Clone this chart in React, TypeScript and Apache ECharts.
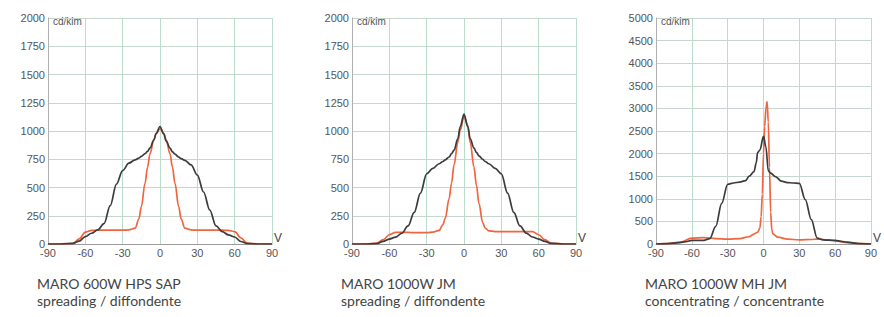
import React, { useEffect, useRef } from "react";
import * as echarts from "echarts";

// Shared angle grid (degrees) for charts 1 and 2
const anglesA = [-90,-80,-70,-65,-60,-55,-50,-45,-40,-35,-30,-25,-20,-17,-15,-12,-10,-8,-5,-3,0,3,5,8,10,12,15,17,20,25,30,35,40,45,50,55,60,65,70,80,90];

// MARO 600W HPS SAP (cd/klm)
const hps600Black = [0,0,5,25,65,95,125,180,340,530,650,715,745,760,775,800,820,850,920,980,1040,975,910,850,815,795,770,755,740,700,610,460,300,160,110,80,62,22,4,0,0];
const hps600Orange = [0,0,3,45,105,120,122,122,122,122,122,125,140,220,330,540,680,800,920,980,1020,980,920,800,680,540,330,220,140,125,122,122,122,122,122,120,110,55,8,0,0];

// MARO 1000W JM (cd/klm)
const jm1000Black = [0,0,3,23,44,60,95,160,280,450,620,670,710,730,745,770,800,830,930,1040,1150,1040,930,850,810,780,750,730,710,670,620,450,280,160,97,62,44,23,5,0,0];
const jm1000Orange = [0,0,8,38,82,103,103,102,100,100,100,105,120,170,230,400,540,700,900,1010,1130,1050,900,680,520,360,190,140,117,110,110,110,110,110,110,110,82,38,8,0,0];

// MARO 1000W MH JM (cd/klm)
const anglesCBlack = [-90,-80,-70,-65,-60,-55,-50,-45,-40,-35,-30,-25,-20,-15,-12,-8,-6,-5,-3,0,2,4,6,10,15,20,25,30,35,40,45,50,55,60,65,70,80,90];
const mh1000Black = [0,10,30,50,80,80,80,120,390,900,1320,1350,1370,1400,1500,1600,1800,2020,2080,2380,2150,1620,1570,1490,1390,1360,1350,1340,980,540,130,90,85,80,60,40,10,0];
const anglesCOrange = [-90,-80,-70,-60,-50,-40,-30,-20,-12,-8,-5,-3,-2,-1,0,1,2,3,4,5,6,7,8,12,20,30,40,45,50,60,70,80,90];
const mh1000Orange = [0,10,40,130,140,120,110,120,160,220,260,350,600,1100,2000,2600,3000,3150,2700,1700,700,300,220,150,110,90,100,110,100,70,30,10,0];

const xTicks = { min: -90, max: 90, interval: 30 };
const yMaxes = [2000, 2000, 5000];
const yIntervals = [250, 250, 500];

const captionTitles = ["MARO 600W HPS SAP", "MARO 1000W JM", "MARO 1000W MH JM"];
const captionSubs = ["spreading / diffondente", "spreading / diffondente", "concentrating / concentrante"];
const unitLabel = "cd/klm";
const axisName = "V";

const BLACK = "#3b3b3b";
const ORANGE = "#f0643f";
const GRID_V = "#b9dccd";
const GRID_H = "#c5d6cd";
const LABEL = "#555555";

export default function App() {
  const ref = useRef<HTMLDivElement>(null);
  useEffect(() => {
    if (!ref.current) return;
    const chart = echarts.init(ref.current, null, { renderer: "svg" });
    const lefts = [48, 352, 656];
    const width = 224;
    const top = 18;
    const height = 226;

    const pairs = (xs: number[], ys: number[]) => xs.map((x, i) => [x, ys[i]]);
    const seriesData = [
      [pairs(anglesA, hps600Black), pairs(anglesA, hps600Orange)],
      [pairs(anglesA, jm1000Black), pairs(anglesA, jm1000Orange)],
      [pairs(anglesCBlack, mh1000Black), pairs(anglesCOrange, mh1000Orange)],
    ];

    const grid = lefts.map((l) => ({ left: l, top, width, height, containLabel: false }));
    const xAxis = lefts.map((_, i) => ({
      type: "value",
      gridIndex: i,
      ...xTicks,
      name: axisName,
      nameLocation: "end",
      nameGap: 2,
      nameTextStyle: { color: "#444", fontSize: 12, fontFamily: "Liberation Sans", verticalAlign: "bottom" },
      axisLine: { show: true, onZero: false, lineStyle: { color: "#9a9a9a", width: 1 } },
      axisTick: { show: false },
      axisLabel: { color: LABEL, fontSize: 11, fontFamily: "Liberation Sans", margin: 3, formatter: (v: number) => String(v) },
      splitLine: { show: true, lineStyle: { color: GRID_V, width: 1 } },
    }));
    const yAxis = lefts.map((_, i) => ({
      type: "value",
      gridIndex: i,
      min: 0,
      max: yMaxes[i],
      interval: yIntervals[i],
      axisLine: { show: true, onZero: false, lineStyle: { color: "#b0b0b0", width: 1 } },
      axisTick: { show: false },
      axisLabel: { color: LABEL, fontSize: 11, fontFamily: "Liberation Sans", margin: 3, formatter: (v: number) => String(v) },
      splitLine: { show: true, lineStyle: { color: GRID_H, width: 1 } },
    }));

    const series: any[] = [];
    seriesData.forEach((pair, i) => {
      series.push({
        type: "line",
        xAxisIndex: i,
        yAxisIndex: i,
        data: pair[0],
        smooth: 0.35,
        smoothMonotone: "x",
        symbol: "none",
        lineStyle: { color: BLACK, width: 1.7 },
        z: 3,
      });
      series.push({
        type: "line",
        xAxisIndex: i,
        yAxisIndex: i,
        data: pair[1],
        smooth: 0.35,
        smoothMonotone: "x",
        symbol: "none",
        lineStyle: { color: ORANGE, width: 1.7 },
        z: 2,
      });
    });

    const graphic: any[] = [];
    lefts.forEach((l, i) => {
      graphic.push({
        type: "text",
        x: l + 5,
        y: 16,
        style: { text: unitLabel, fill: LABEL, font: "10px 'Liberation Sans'" },
      });
      graphic.push({
        type: "text",
        x: l - 11,
        y: 275,
        style: {
          text: captionTitles[i] + "\n" + captionSubs[i],
          fill: "#444444",
          font: "14px Lato",
          lineHeight: 17,
        },
      });
    });

    chart.setOption({
      animation: false,
      backgroundColor: "#ffffff",
      grid,
      xAxis,
      yAxis,
      series,
      graphic,
    });
    return () => chart.dispose();
  }, []);
  return (
    <div
      ref={ref}
      style={{ position: "fixed", left: 0, top: 0, width: 884, height: 317 }}
    />
  );
}
